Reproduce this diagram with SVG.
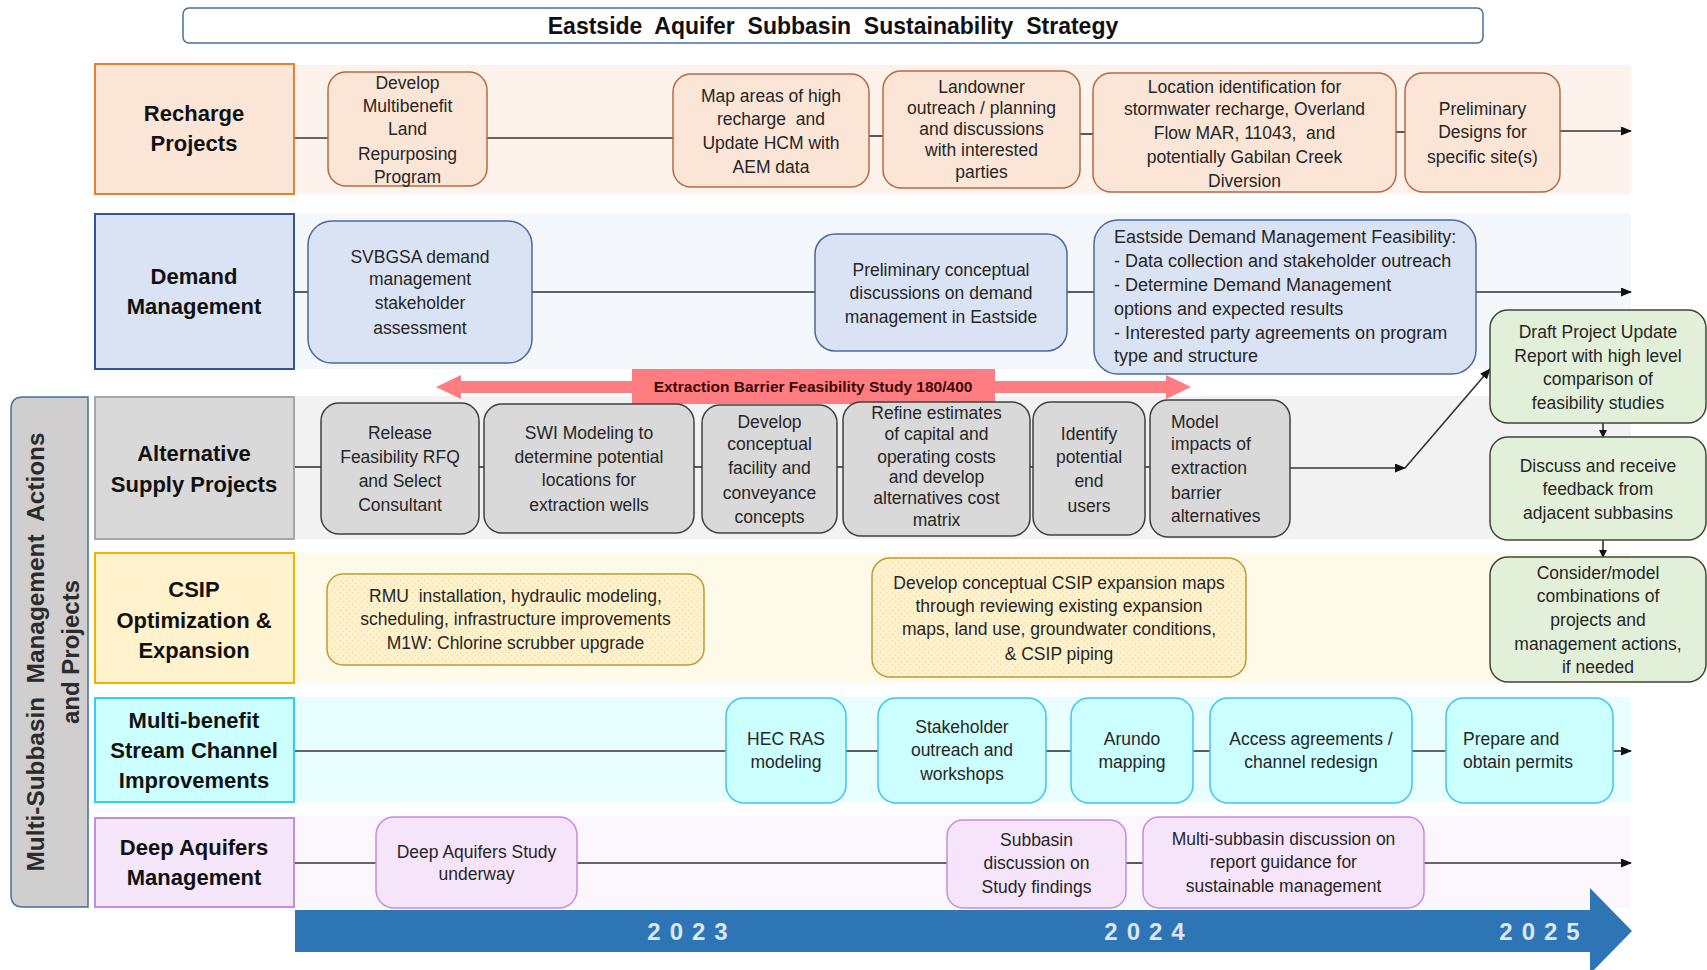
<svg xmlns="http://www.w3.org/2000/svg" width="1707" height="970" viewBox="0 0 1707 970">
<defs>
<marker id="arr" markerUnits="userSpaceOnUse" markerWidth="11" markerHeight="9" refX="10" refY="4.5" orient="auto"><path d="M0,0 L11,4.5 L0,9 z" fill="#111"/></marker>
<marker id="arrs" markerUnits="userSpaceOnUse" markerWidth="8" markerHeight="8" refX="7" refY="4" orient="auto"><path d="M0,0 L8,4 L0,8 z" fill="#111"/></marker>
<pattern id="dots" width="6" height="6" patternUnits="userSpaceOnUse"><rect width="6" height="6" fill="#fff3cf"/><circle cx="1.5" cy="1.5" r="1" fill="#f7e0a3"/><circle cx="4.5" cy="4.5" r="1" fill="#f7e0a3"/></pattern>
</defs>
<style>
text{font-family:"Liberation Sans",Arial,sans-serif;fill:#262626}
.t{font-size:17.5px;text-anchor:middle}
.tl{font-size:17.5px;text-anchor:start}
.h{font-size:22px;font-weight:bold;text-anchor:middle;fill:#111}
.ln{stroke:#333;stroke-width:1.6;fill:none}
.rn{fill:#fbe5d6;stroke:#b8693e;stroke-width:1.5}
.dn{fill:#dae3f3;stroke:#4a6a9c;stroke-width:1.5}
.an{fill:#d9d9d9;stroke:#404040;stroke-width:1.5}
.cn{fill:url(#dots);stroke:#bf9a30;stroke-width:1.5}
.mn{fill:#ccffff;stroke:#3cc6f0;stroke-width:1.5}
.pn{fill:#f6e4fb;stroke:#c48ce0;stroke-width:1.5}
.gn{fill:#e2f0d9;stroke:#3b4a33;stroke-width:1.5}
.yr{font-size:24px;font-weight:bold;fill:#dde6f2;text-anchor:middle;letter-spacing:9px}
</style>
<rect width="1707" height="970" fill="#ffffff"/>

<g id="lanes">
<rect x="295" y="65" width="1336" height="129" fill="#fdf3ec"/>
<rect x="295" y="213" width="1336" height="156" fill="#f4f7fc"/>
<rect x="295" y="396" width="1336" height="143" fill="#f2f2f2"/>
<rect x="295" y="553" width="1336" height="130" fill="#fefaea"/>
<rect x="295" y="697" width="1336" height="105" fill="#e9ffff"/>
<rect x="295" y="816" width="1336" height="92" fill="#fcf7fe"/>
</g>

<g id="title">
<rect x="183" y="8" width="1300" height="35" rx="6" fill="#fff" stroke="#41719c" stroke-width="1.5"/>
<text x="833" y="34" style="font-size:23px;font-weight:bold;text-anchor:middle;fill:#111" xml:space="preserve">Eastside  Aquifer  Subbasin  Sustainability  Strategy</text>
</g>

<g id="side-label">
<path d="M88,397 L23,397 Q11,397 11,409 L11,895 Q11,907 23,907 L88,907 Z" fill="#d0cece" stroke="#41719c" stroke-width="1.5"/>
<text transform="translate(44,652) rotate(-90)" style="font-size:24px;font-weight:bold;text-anchor:middle;fill:#2b2b2b" textLength="439" lengthAdjust="spacingAndGlyphs" xml:space="preserve">Multi-Subbasin  Management  Actions</text>
<text transform="translate(79,652) rotate(-90)" style="font-size:24px;font-weight:bold;text-anchor:middle;fill:#2b2b2b">and Projects</text>
</g>

<g id="timeline">
<polygon points="295,910 1590,910 1590,888 1632,931 1590,974 1590,952 295,952" fill="#2e75b6"/>
<text class="yr" x="692" y="940">2023</text>
<text class="yr" x="1149" y="940">2024</text>
<text class="yr" x="1544" y="940">2025</text>
</g>

<g id="connectors">
<path class="ln" d="M294,138 H328"/>
<path class="ln" d="M487,138 H673"/>
<path class="ln" d="M869,136 H883"/>
<path class="ln" d="M1080,134 H1093"/>
<path class="ln" d="M1396,132 H1405"/>
<path class="ln" d="M1560,131 H1631" marker-end="url(#arr)"/>
<path class="ln" d="M294,292 H308"/>
<path class="ln" d="M532,292 H815"/>
<path class="ln" d="M1067,292 H1094"/>
<path class="ln" d="M1476,292 H1631" marker-end="url(#arr)"/>
<path class="ln" d="M294,467 H321"/>
<path class="ln" d="M479,467 H484"/>
<path class="ln" d="M694,467 H702"/>
<path class="ln" d="M837,467 H843"/>
<path class="ln" d="M1030,467 H1033"/>
<path class="ln" d="M1145,467 H1150"/>
<path class="ln" d="M1290,468 H1405" marker-end="url(#arr)"/>
<path class="ln" d="M1405,468 L1490,369" marker-end="url(#arr)"/>
<path class="ln" d="M1603,423 V437" marker-end="url(#arrs)"/>
<path class="ln" d="M1603,540 V557" marker-end="url(#arrs)"/>
<path class="ln" d="M294,751 H726"/>
<path class="ln" d="M846,751 H878"/>
<path class="ln" d="M1046,751 H1071"/>
<path class="ln" d="M1193,751 H1210"/>
<path class="ln" d="M1412,751 H1446"/>
<path class="ln" d="M1613,751 H1631" marker-end="url(#arr)"/>
<path class="ln" d="M294,863 H376"/>
<path class="ln" d="M577,863 H947"/>
<path class="ln" d="M1126,863 H1143"/>
<path class="ln" d="M1424,863 H1631" marker-end="url(#arr)"/>
</g>

<g id="extraction-barrier">
<polygon points="436,387 461,375 461,381 1166,381 1166,375 1191,387 1166,399 1166,393 461,393 461,399" fill="#ff7c80"/>
<rect x="632" y="369" width="363" height="35" fill="#ff7c80"/>
<text x="813" y="392" style="font-size:15.5px;font-weight:bold;text-anchor:middle;fill:#3a0808">Extraction Barrier Feasibility Study 180/400</text>
</g>

<g id="hdr-recharge"><rect x="95" y="64" width="199" height="130" fill="#fbe5d6" stroke="#ed7d31" stroke-width="2"/><text class="h" x="194" y="121">Recharge</text><text class="h" x="194" y="151">Projects</text></g>
<g id="hdr-demand"><rect x="95" y="214" width="199" height="155" fill="#dae3f3" stroke="#2f5597" stroke-width="2"/><text class="h" x="194" y="284">Demand</text><text class="h" x="194" y="314">Management</text></g>
<g id="hdr-alt"><rect x="95" y="397" width="199" height="142" fill="#d9d9d9" stroke="#a6a6a6" stroke-width="2"/><text class="h" x="194" y="461">Alternative</text><text class="h" x="194" y="492">Supply Projects</text></g>
<g id="hdr-csip"><rect x="95" y="553" width="199" height="130" fill="#fff2cc" stroke="#f0b400" stroke-width="2"/><text class="h" x="194" y="597">CSIP</text><text class="h" x="194" y="628">Optimization &amp;</text><text class="h" x="194" y="658">Expansion</text></g>
<g id="hdr-stream"><rect x="95" y="698" width="199" height="104" fill="#ccffff" stroke="#33ccff" stroke-width="2"/><text class="h" x="194" y="728">Multi-benefit</text><text class="h" x="194" y="758">Stream Channel</text><text class="h" x="194" y="788">Improvements</text></g>
<g id="hdr-deep"><rect x="95" y="818" width="199" height="89" fill="#f5e6fc" stroke="#c38ee0" stroke-width="2"/><text class="h" x="194" y="855">Deep Aquifers</text><text class="h" x="194" y="885">Management</text></g>

<g id="r1"><rect class="rn" x="328" y="72" width="159" height="114" rx="18"/><text class="t"><tspan x="407.5" y="89">Develop</tspan><tspan x="407.5" y="112">Multibenefit</tspan><tspan x="407.5" y="135">Land</tspan><tspan x="407.5" y="160">Repurposing</tspan><tspan x="407.5" y="183">Program</tspan></text></g>
<g id="r2"><rect class="rn" x="673" y="74" width="196" height="113" rx="18"/><text class="t"><tspan x="771" y="102">Map areas of high</tspan><tspan x="771" y="125" xml:space="preserve">recharge  and</tspan><tspan x="771" y="149">Update HCM with</tspan><tspan x="771" y="173">AEM data</tspan></text></g>
<g id="r3"><rect class="rn" x="883" y="71" width="197" height="117" rx="18"/><text class="t"><tspan x="981.5" y="93">Landowner</tspan><tspan x="981.5" y="114">outreach / planning</tspan><tspan x="981.5" y="135">and discussions</tspan><tspan x="981.5" y="156">with interested</tspan><tspan x="981.5" y="178">parties</tspan></text></g>
<g id="r4"><rect class="rn" x="1093" y="73" width="303" height="119" rx="18"/><text class="t"><tspan x="1244.5" y="93">Location identification for</tspan><tspan x="1244.5" y="115">stormwater recharge, Overland</tspan><tspan x="1244.5" y="139" xml:space="preserve">Flow MAR, 11043,  and</tspan><tspan x="1244.5" y="163">potentially Gabilan Creek</tspan><tspan x="1244.5" y="187">Diversion</tspan></text></g>
<g id="r5"><rect class="rn" x="1405" y="73" width="155" height="119" rx="18"/><text class="t"><tspan x="1482.5" y="115">Preliminary</tspan><tspan x="1482.5" y="138">Designs for</tspan><tspan x="1482.5" y="163">specific site(s)</tspan></text></g>

<g id="d1"><rect class="dn" x="308" y="221" width="224" height="142" rx="24"/><text class="t"><tspan x="420" y="263">SVBGSA demand</tspan><tspan x="420" y="285">management</tspan><tspan x="420" y="309">stakeholder</tspan><tspan x="420" y="334">assessment</tspan></text></g>
<g id="d2"><rect class="dn" x="815" y="234" width="252" height="117" rx="20"/><text class="t"><tspan x="941" y="276">Preliminary conceptual</tspan><tspan x="941" y="299">discussions on demand</tspan><tspan x="941" y="323">management in Eastside</tspan></text></g>
<g id="d3"><rect class="dn" x="1094" y="220" width="382" height="154" rx="24"/><text class="tl" style="font-size:18px"><tspan x="1114" y="243">Eastside Demand Management Feasibility:</tspan><tspan x="1114" y="267">- Data collection and stakeholder outreach</tspan><tspan x="1114" y="291">- Determine Demand Management</tspan><tspan x="1114" y="315">options and expected results</tspan><tspan x="1114" y="339">- Interested party agreements on program</tspan><tspan x="1114" y="362">type and structure</tspan></text></g>

<g id="a1"><rect class="an" x="321" y="403" width="158" height="131" rx="18"/><text class="t"><tspan x="400" y="439">Release</tspan><tspan x="400" y="463">Feasibility RFQ</tspan><tspan x="400" y="487">and Select</tspan><tspan x="400" y="511">Consultant</tspan></text></g>
<g id="a2"><rect class="an" x="484" y="404" width="210" height="129" rx="18"/><text class="t"><tspan x="589" y="439">SWI Modeling to</tspan><tspan x="589" y="463">determine potential</tspan><tspan x="589" y="486">locations for</tspan><tspan x="589" y="511">extraction wells</tspan></text></g>
<g id="a3"><rect class="an" x="702" y="405" width="135" height="128" rx="18"/><text class="t"><tspan x="769.5" y="428">Develop</tspan><tspan x="769.5" y="450">conceptual</tspan><tspan x="769.5" y="474">facility and</tspan><tspan x="769.5" y="499">conveyance</tspan><tspan x="769.5" y="523">concepts</tspan></text></g>
<g id="a4"><rect class="an" x="843" y="402" width="187" height="134" rx="18"/><text class="t"><tspan x="936.5" y="419">Refine estimates</tspan><tspan x="936.5" y="440">of capital and</tspan><tspan x="936.5" y="463">operating costs</tspan><tspan x="936.5" y="483">and develop</tspan><tspan x="936.5" y="504">alternatives cost</tspan><tspan x="936.5" y="526">matrix</tspan></text></g>
<g id="a5"><rect class="an" x="1033" y="402" width="112" height="133" rx="18"/><text class="t"><tspan x="1089" y="440">Identify</tspan><tspan x="1089" y="463">potential</tspan><tspan x="1089" y="487">end</tspan><tspan x="1089" y="512">users</tspan></text></g>
<g id="a6"><rect class="an" x="1150" y="400" width="140" height="137" rx="18"/><text class="tl"><tspan x="1171" y="428">Model</tspan><tspan x="1171" y="450">impacts of</tspan><tspan x="1171" y="474">extraction</tspan><tspan x="1171" y="499">barrier</tspan><tspan x="1171" y="522">alternatives</tspan></text></g>

<g id="g1"><rect class="gn" x="1490" y="310" width="216" height="113" rx="18"/><text class="t"><tspan x="1598" y="338">Draft Project Update</tspan><tspan x="1598" y="362">Report with high level</tspan><tspan x="1598" y="385">comparison of</tspan><tspan x="1598" y="409">feasibility studies</tspan></text></g>
<g id="g2"><rect class="gn" x="1490" y="437" width="216" height="103" rx="18"/><text class="t"><tspan x="1598" y="472">Discuss and receive</tspan><tspan x="1598" y="495">feedback from</tspan><tspan x="1598" y="519">adjacent subbasins</tspan></text></g>
<g id="g3"><rect class="gn" x="1490" y="557" width="216" height="125" rx="18"/><text class="t"><tspan x="1598" y="579">Consider/model</tspan><tspan x="1598" y="602">combinations of</tspan><tspan x="1598" y="626">projects and</tspan><tspan x="1598" y="650">management actions,</tspan><tspan x="1598" y="673">if needed</tspan></text></g>

<g id="c1"><rect class="cn" x="327" y="574" width="377" height="91" rx="16"/><text class="t"><tspan x="515.5" y="602" xml:space="preserve">RMU  installation, hydraulic modeling,</tspan><tspan x="515.5" y="625">scheduling, infrastructure improvements</tspan><tspan x="515.5" y="649">M1W: Chlorine scrubber upgrade</tspan></text></g>
<g id="c2"><rect class="cn" x="872" y="558" width="374" height="119" rx="18"/><text class="t"><tspan x="1059" y="589">Develop conceptual CSIP expansion maps</tspan><tspan x="1059" y="612">through reviewing existing expansion</tspan><tspan x="1059" y="635">maps, land use, groundwater conditions,</tspan><tspan x="1059" y="660">&amp; CSIP piping</tspan></text></g>

<g id="m1"><rect class="mn" x="726" y="698" width="120" height="105" rx="18"/><text class="t"><tspan x="786" y="745">HEC RAS</tspan><tspan x="786" y="768">modeling</tspan></text></g>
<g id="m2"><rect class="mn" x="878" y="698" width="168" height="105" rx="18"/><text class="t"><tspan x="962" y="733">Stakeholder</tspan><tspan x="962" y="756">outreach and</tspan><tspan x="962" y="780">workshops</tspan></text></g>
<g id="m3"><rect class="mn" x="1071" y="698" width="122" height="105" rx="18"/><text class="t"><tspan x="1132" y="745">Arundo</tspan><tspan x="1132" y="768">mapping</tspan></text></g>
<g id="m4"><rect class="mn" x="1210" y="698" width="202" height="105" rx="18"/><text class="t"><tspan x="1311" y="745">Access agreements /</tspan><tspan x="1311" y="768">channel redesign</tspan></text></g>
<g id="m5"><rect class="mn" x="1446" y="698" width="167" height="105" rx="18"/><text class="tl"><tspan x="1463" y="745">Prepare and</tspan><tspan x="1463" y="768">obtain permits</tspan></text></g>

<g id="p1"><rect class="pn" x="376" y="817" width="201" height="91" rx="18"/><text class="t"><tspan x="476.5" y="858">Deep Aquifers Study</tspan><tspan x="476.5" y="880">underway</tspan></text></g>
<g id="p2"><rect class="pn" x="947" y="820" width="179" height="88" rx="16"/><text class="t"><tspan x="1036.5" y="846">Subbasin</tspan><tspan x="1036.5" y="869">discussion on</tspan><tspan x="1036.5" y="893">Study findings</tspan></text></g>
<g id="p3"><rect class="pn" x="1143" y="817" width="281" height="91" rx="16"/><text class="t"><tspan x="1283.5" y="845">Multi-subbasin discussion on</tspan><tspan x="1283.5" y="868">report guidance for</tspan><tspan x="1283.5" y="892">sustainable management</tspan></text></g>
</svg>
